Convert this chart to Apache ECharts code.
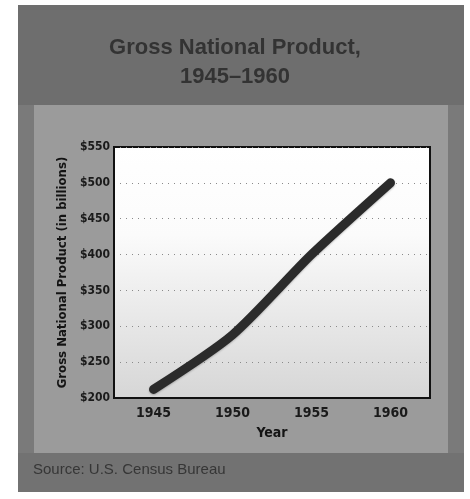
<!DOCTYPE html>
<html>
<head>
<meta charset="utf-8">
<script src="https://cdn.jsdelivr.net/npm/echarts@6/dist/echarts.min.js"></script>
<style>
  html, body { margin: 0; padding: 0; background: #ffffff; }
  #chart { width: 470px; height: 499px; }
</style>
</head>
<body>
<div id="chart"></div>
<script>
// Gross National Product, 1945-1960 (billions of dollars)
var years = ['1945', '1950', '1955', '1960'];
var gnp = [212, 288, 400, 500];
var yTicks = [200, 250, 300, 350, 400, 450, 500, 550];

var narrow = "'Liberation Sans Narrow', 'DejaVu Sans Condensed', 'Liberation Sans', sans-serif";

var chart = echarts.init(document.getElementById('chart'), null, { renderer: 'canvas' });

chart.setOption({
  backgroundColor: '#ffffff',
  animation: false,
  graphic: [
    // outer card
    { type: 'rect', z: -10, shape: { x: 18, y: 5, width: 446, height: 487 },
      style: { fill: '#7a7a7a' } },
    // title band
    { type: 'rect', z: -9, shape: { x: 18, y: 5, width: 446, height: 100 },
      style: { fill: '#6e6e6e' } },
    // inner panel behind the plot
    { type: 'rect', z: -9, shape: { x: 34, y: 105, width: 414, height: 348 },
      style: { fill: '#9b9b9b' } },
    // source band
    { type: 'rect', z: -9, shape: { x: 18, y: 453, width: 446, height: 39 },
      style: { fill: '#727272' } },
    { type: 'text', left: 33, top: 462,
      style: { text: 'Source: U.S. Census Bureau', fill: '#363636',
               font: '15px "Liberation Sans", Arial, sans-serif' } }
  ],
  title: {
    text: 'Gross National Product,\n1945\u20131960',
    left: 'center',
    top: 28,
    textStyle: {
      color: '#333333',
      fontSize: 22,
      fontWeight: 'bold',
      lineHeight: 29,
      fontFamily: "'Liberation Sans', Arial, sans-serif"
    }
  },
  grid: {
    left: 114, right: 40, top: 147, bottom: 101,
    show: true,
    borderColor: '#111111',
    borderWidth: 2,
    backgroundColor: {
      type: 'linear', x: 0, y: 0, x2: 0, y2: 1,
      colorStops: [
        { offset: 0, color: '#ffffff' },
        { offset: 0.35, color: '#fbfbfb' },
        { offset: 1, color: '#d6d6d6' }
      ]
    }
  },
  xAxis: {
    type: 'category',
    data: years,
    boundaryGap: true,
    name: 'Year',
    nameLocation: 'middle',
    nameGap: 28,
    nameTextStyle: { color: '#141414', fontSize: 14, fontWeight: 'bold', fontFamily: narrow },
    axisLine: { show: true, lineStyle: { color: '#111111', width: 2 } },
    axisTick: { show: false },
    axisLabel: { color: '#1a1a1a', fontSize: 14, fontWeight: 'bold', margin: 8, fontFamily: narrow },
    splitLine: { show: false }
  },
  yAxis: {
    type: 'value',
    min: yTicks[0],
    max: yTicks[yTicks.length - 1],
    interval: 50,
    name: 'Gross National Product (in billions)',
    nameLocation: 'middle',
    nameGap: 42,
    nameTextStyle: { color: '#141414', fontSize: 13, fontWeight: 'bold', fontFamily: narrow },
    axisLine: { show: true, lineStyle: { color: '#111111', width: 2 } },
    axisTick: { show: false },
    axisLabel: {
      color: '#1a1a1a', fontSize: 12, fontWeight: 'bold', margin: 4, fontFamily: narrow,
      formatter: function (v) { return '$' + v; }
    },
    splitLine: { show: true, lineStyle: { color: '#8a8a8a', type: [1, 5], width: 1 } }
  },
  series: [{
    type: 'line',
    data: gnp,
    smooth: 0.25,
    symbol: 'none',
    lineStyle: {
      color: '#2b2b2b', width: 9, cap: 'round', join: 'round',
      shadowColor: 'rgba(0,0,0,0.25)', shadowBlur: 2, shadowOffsetY: 1
    }
  }]
});
</script>
</body>
</html>
